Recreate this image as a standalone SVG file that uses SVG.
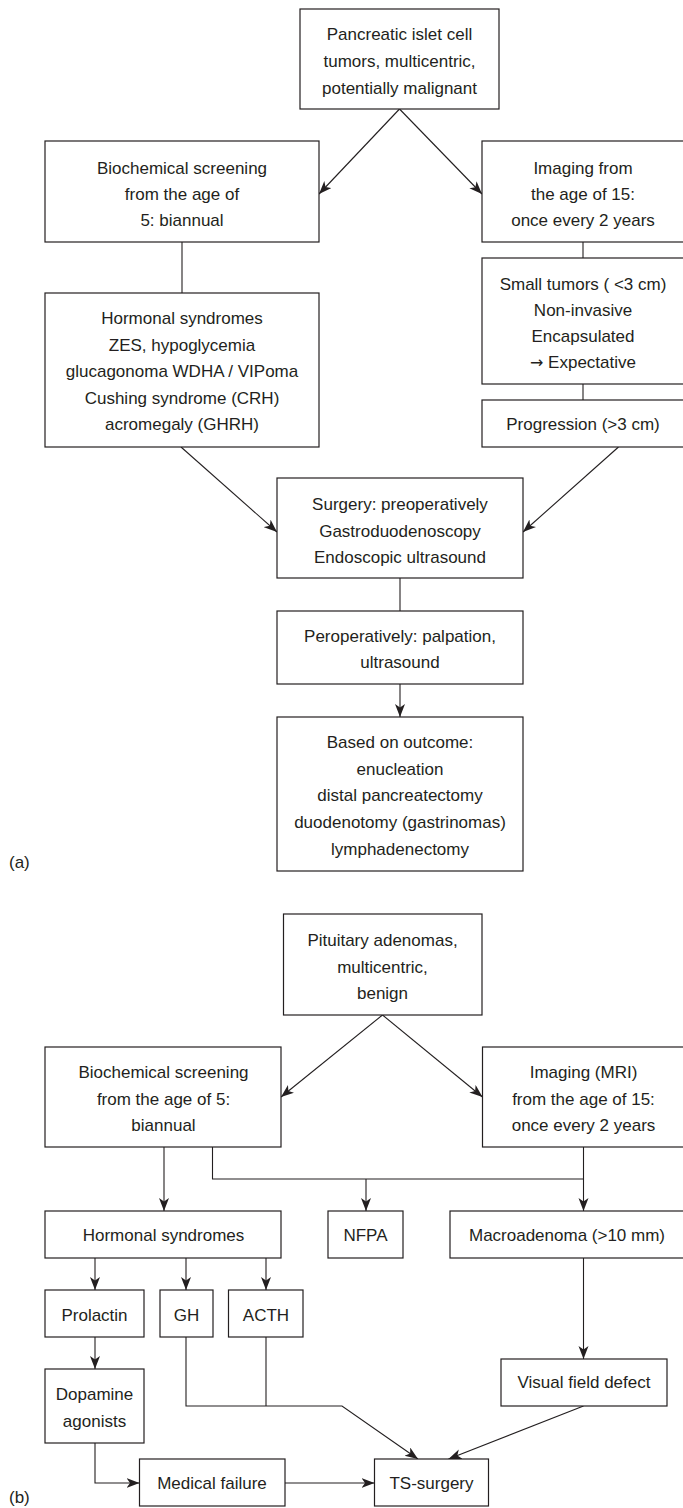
<svg xmlns="http://www.w3.org/2000/svg" width="683" height="1508" viewBox="0 0 683 1508">
<style>
rect{fill:#fff;stroke:#231f20;stroke-width:1.2}
text{font-family:"Liberation Sans",Arial,sans-serif;font-size:17px;fill:#231f20;text-anchor:middle}
text.lbl{text-anchor:start}
tspan.sym{font-family:"DejaVu Sans",sans-serif;font-size:16px}
#connectors path{fill:none;stroke:#231f20;stroke-width:1.1}
#connectors path.a{marker-end:url(#arr)}
</style>
<defs>
<marker id="arr" markerUnits="userSpaceOnUse" markerWidth="15" markerHeight="11" refX="13" refY="5" orient="auto">
<path d="M0,0 L13,5 L0,10 L3.5,5 Z" fill="#231f20"/>
</marker>
</defs>
<rect x="-5" y="-5" width="700" height="1520" style="stroke:none"/>
<g id="connectors">
<path class="a" d="M399.5,109 L319,194"/>
<path class="a" d="M399.5,109 L482,194"/>
<path d="M182,242 V293"/>
<path d="M583,242 V258"/>
<path d="M583,384 V400"/>
<path class="a" d="M181,447 L277,532"/>
<path class="a" d="M618.5,447 L523,532"/>
<path d="M400,578 V611"/>
<path class="a" d="M400,684 V717"/>
<path class="a" d="M382.5,1015 L281,1097"/>
<path class="a" d="M382.5,1015 L482.5,1097"/>
<path class="a" d="M164,1147 V1211"/>
<path d="M212.5,1147 V1179 H583.5"/>
<path class="a" d="M583.5,1147 V1211"/>
<path class="a" d="M366,1179 V1211"/>
<path class="a" d="M95,1258 V1290"/>
<path class="a" d="M186,1258 V1290"/>
<path class="a" d="M266,1258 V1290"/>
<path class="a" d="M95,1337 V1369"/>
<path class="a" d="M95,1443 V1483 H139.5"/>
<path class="a" d="M285,1483 H374.5"/>
<path class="a" d="M186,1337 V1406 H342 L418,1459"/>
<path d="M266,1337 V1406"/>
<path class="a" d="M583.5,1258 V1359"/>
<path class="a" d="M583.5,1406 L448.5,1459"/>
</g>
<g id="a-top"><rect x="300" y="9" width="199" height="100"/><text x="399.5" y="40">Pancreatic islet cell</text><text x="399.5" y="67">tumors, multicentric,</text><text x="399.5" y="94">potentially malignant</text></g>
<g id="a-biochem"><rect x="45" y="141" width="274" height="101"/><text x="182" y="174">Biochemical screening</text><text x="182" y="200">from the age of</text><text x="182" y="226">5: biannual</text></g>
<g id="a-imaging"><rect x="482" y="141" width="215" height="101"/><text x="583" y="174">Imaging from</text><text x="583" y="200">the age of 15:</text><text x="583" y="226">once every 2 years</text></g>
<g id="a-small"><rect x="482" y="258" width="215" height="126"/><text x="583" y="290">Small tumors ( &lt;3 cm)</text><text x="583" y="316">Non-invasive</text><text x="583" y="342">Encapsulated</text><text x="583" y="368"><tspan class="sym">→</tspan> Expectative</text></g>
<g id="a-progression"><rect x="482" y="400" width="215" height="47"/><text x="583" y="430">Progression (&gt;3 cm)</text></g>
<g id="a-hormonal"><rect x="45" y="293" width="274" height="154"/><text x="182" y="324">Hormonal syndromes</text><text x="182" y="351">ZES, hypoglycemia</text><text x="182" y="377">glucagonoma WDHA / VIPoma</text><text x="182" y="404">Cushing syndrome (CRH)</text><text x="182" y="430">acromegaly (GHRH)</text></g>
<g id="a-surgery"><rect x="277" y="478" width="246" height="100"/><text x="400" y="510">Surgery: preoperatively</text><text x="400" y="537">Gastroduodenoscopy</text><text x="400" y="563">Endoscopic ultrasound</text></g>
<g id="a-perop"><rect x="277" y="611" width="246" height="73"/><text x="400" y="642">Peroperatively: palpation,</text><text x="400" y="668">ultrasound</text></g>
<g id="a-outcome"><rect x="277" y="717" width="246" height="154"/><text x="400" y="748">Based on outcome:</text><text x="400" y="775">enucleation</text><text x="400" y="801">distal pancreatectomy</text><text x="400" y="828">duodenotomy (gastrinomas)</text><text x="400" y="855">lymphadenectomy</text></g>
<text class="lbl" x="9" y="868">(a)</text>
<g id="b-top"><rect x="283.5" y="914" width="198.5" height="101"/><text x="382.5" y="946">Pituitary adenomas,</text><text x="382.5" y="973">multicentric,</text><text x="382.5" y="999">benign</text></g>
<g id="b-biochem"><rect x="45" y="1047" width="236" height="100"/><text x="163.5" y="1078">Biochemical screening</text><text x="163.5" y="1105">from the age of 5:</text><text x="163.5" y="1131">biannual</text></g>
<g id="b-imaging"><rect x="482.5" y="1047" width="215" height="100"/><text x="583.5" y="1078">Imaging (MRI)</text><text x="583.5" y="1105">from the age of 15:</text><text x="583.5" y="1131">once every 2 years</text></g>
<g id="b-hormonal"><rect x="45" y="1211" width="236" height="47"/><text x="163.5" y="1241">Hormonal syndromes</text></g>
<g id="b-nfpa"><rect x="328" y="1211" width="75" height="47"/><text x="365.5" y="1241">NFPA</text></g>
<g id="b-macro"><rect x="450" y="1211" width="247" height="47"/><text x="567" y="1241">Macroadenoma (&gt;10 mm)</text></g>
<g id="b-prolactin"><rect x="45" y="1290" width="99" height="47"/><text x="94.5" y="1321">Prolactin</text></g>
<g id="b-gh"><rect x="160" y="1290" width="53" height="47"/><text x="186.5" y="1321">GH</text></g>
<g id="b-acth"><rect x="228.5" y="1290" width="74.5" height="47"/><text x="266" y="1321">ACTH</text></g>
<g id="b-dopamine"><rect x="45" y="1369" width="99" height="74"/><text x="94.5" y="1400">Dopamine</text><text x="94.5" y="1427">agonists</text></g>
<g id="b-vfd"><rect x="501" y="1359" width="166" height="47"/><text x="584" y="1388">Visual field defect</text></g>
<g id="b-failure"><rect x="139.5" y="1459" width="145.5" height="47"/><text x="212" y="1489">Medical failure</text></g>
<g id="b-ts"><rect x="374.5" y="1459" width="114" height="47"/><text x="431.5" y="1489">TS-surgery</text></g>
<text class="lbl" x="9" y="1503">(b)</text>
</svg>
